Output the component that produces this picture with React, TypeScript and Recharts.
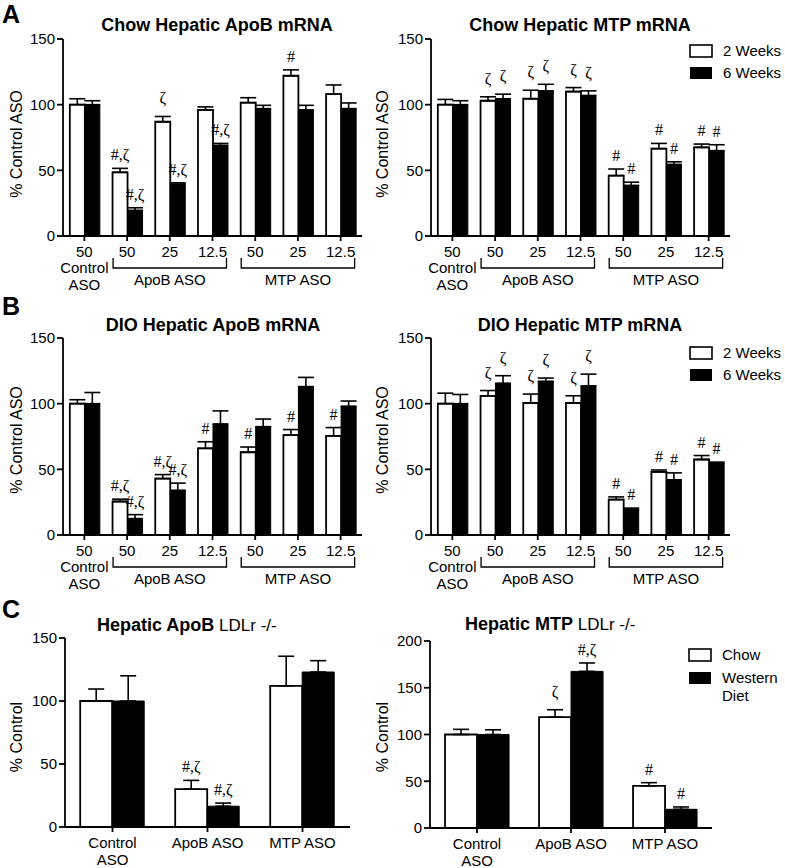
import React from 'react';
import { BarChart, Bar, XAxis, YAxis, ErrorBar, LabelList } from 'recharts';

const SANS = '"Liberation Sans", Arial, Helvetica, sans-serif';
const SERIF = '"Liberation Serif", "Times New Roman", serif';

// panels A and B: 7 dose categories
const doseIds = ['ctl50', 'apob50', 'apob25', 'apob12.5', 'mtp50', 'mtp25', 'mtp12.5'];
const doses = ['50', '50', '25', '12.5', '50', '25', '12.5'];
const doseGroups = [
  { label: 'ApoB ASO', mid: 2 },
  { label: 'MTP ASO', mid: 5 },
];
const weekLegend = ['2 Weeks', '6 Weeks'];

// A - chow, hepatic ApoB mRNA
const chowApoB2w = [100, 48.5, 87, 96, 101.5, 122, 108];
const chowApoB2wErr = [4.5, 3, 4, 2.3, 3.8, 4.5, 7];
const chowApoB6w = [100, 19.5, 39.5, 69, 97, 96, 97];
const chowApoB6wErr = [3, 2, 1, 1.5, 2.5, 3.5, 4.3];
const chowApoB2wNote = ['', '#,ζ', 'ζ', '', '', '#', ''];
const chowApoB6wNote = ['', '#,ζ', '#,ζ', '#,ζ', '', '', ''];

// A - chow, hepatic MTP mRNA
const chowMtp2w = [100, 103, 104.5, 110, 46, 66.5, 67.5];
const chowMtp2wErr = [4, 3, 6.5, 3, 5, 4, 2.5];
const chowMtp6w = [100, 104.5, 110.5, 107, 38.5, 54.5, 65];
const chowMtp6wErr = [3, 3.5, 5, 3.5, 2.5, 2, 4.5];
const chowMtp2wNote = ['', 'ζ', 'ζ', 'ζ', '#', '#', '#'];
const chowMtp6wNote = ['', 'ζ', 'ζ', 'ζ', '#', '#', '#'];

// B - DIO, hepatic ApoB mRNA
const dioApoB2w = [100, 25.5, 43, 66, 63, 76, 75.5];
const dioApoB2wErr = [3, 1.8, 3, 5, 4, 4.3, 6.3];
const dioApoB6w = [100, 12.5, 34, 84.5, 82.5, 113, 98];
const dioApoB6wErr = [8.5, 3, 5.5, 10, 5.8, 7, 4];
const dioApoB2wNote = ['', '#,ζ', '#,ζ', '#', '#', '#', '#'];
const dioApoB6wNote = ['', '#,ζ', '#,ζ', '', '', '', ''];

// B - DIO, hepatic MTP mRNA
const dioMtp2w = [100, 106, 100.5, 100.5, 27, 48, 57.5];
const dioMtp2wErr = [8, 4, 6.8, 5.5, 2, 1.5, 3];
const dioMtp6w = [100, 115.5, 117, 113.5, 19.5, 42, 54.5];
const dioMtp6wErr = [7, 5.8, 2.5, 9, 1, 5.3, 1];
const dioMtp2wNote = ['', 'ζ', 'ζ', 'ζ', '#', '#', '#'];
const dioMtp6wNote = ['', 'ζ', 'ζ', 'ζ', '#', '#', '#'];

// C - LDLr -/-, chow vs western diet
const dietCats = ['Control ASO', 'ApoB ASO', 'MTP ASO'];
const dietTickLines = [['Control', 'ASO'], ['ApoB ASO'], ['MTP ASO']];
const dietLegend = ['Chow', 'Western', 'Diet'];

const ldlrApoBChow = [100, 30, 112];
const ldlrApoBChowErr = [9.5, 7, 23.5];
const ldlrApoBWest = [100, 16.5, 123];
const ldlrApoBWestErr = [20, 2.5, 9];
const ldlrApoBChowNote = ['', '#,ζ', ''];
const ldlrApoBWestNote = ['', '#,ζ', ''];

const ldlrMtpChow = [100, 118.5, 45];
const ldlrMtpChowErr = [5.5, 8, 3.5];
const ldlrMtpWest = [100, 167.5, 20];
const ldlrMtpWestErr = [5, 9, 2.5];
const ldlrMtpChowNote = ['', 'ζ', '#'];
const ldlrMtpWestNote = ['', '#,ζ', '#'];

type Row = { id: string; a: number; aErr: number[]; aNote: string; b: number; bErr: number[]; bNote: string };

function makeRows(ids: string[], a: number[], ae: number[], an: string[], b: number[], be: number[], bn: string[]): Row[] {
  return ids.map((id, i) => ({
    id,
    a: a[i],
    aErr: [0, ae[i]],
    aNote: an[i],
    b: b[i],
    bErr: [0, be[i]],
    bNote: bn[i],
  }));
}

type Box = { left: number; top: number; width: number; height: number };
type Plot = { x0: number; x1: number; y0: number; y1: number };

// significance marks placed above the error bar cap
function noteLabel(rows: Row[], key: 'a' | 'b') {
  return (props: any) => {
    const vb = props.viewBox || props;
    const i = props.index;
    const row = rows[i];
    const note = key === 'a' ? row.aNote : row.bNote;
    if (!note) return null;
    const val = key === 'a' ? row.a : row.b;
    const err = (key === 'a' ? row.aErr : row.bErr)[1];
    const ppu = vb.height / val;
    const top = vb.y - err * ppu;
    const lift = note.includes('#') ? 8 : 13;
    return (
      <text x={vb.x + vb.width / 2} y={top - lift} textAnchor="middle" fontFamily={SERIF} fontSize={16} fill="#000">
        {note}
      </text>
    );
  };
}

function AxisTitle({ cx, cy, text }: { cx: number; cy: number; text: string }) {
  return (
    <text x={cx} y={cy} transform={`rotate(-90, ${cx}, ${cy})`} textAnchor="middle" fontFamily={SANS} fontSize={16} fill="#000">
      {text}
    </text>
  );
}

function doseTick(axisY: number, band: number) {
  return (props: any) => {
    const { x } = props;
    const i = props.index ?? props.payload?.index ?? 0;
    const group = doseGroups.find((g) => g.mid === i);
    const hw = band + 14;
    return (
      <g fontFamily={SANS} fontSize={15} fill="#000">
        <text x={x} y={axisY + 21} textAnchor="middle">{doses[i]}</text>
        {i === 0 && (
          <>
            <text x={x} y={axisY + 37} textAnchor="middle">Control</text>
            <text x={x} y={axisY + 54} textAnchor="middle">ASO</text>
          </>
        )}
        {group && (
          <>
            <path
              d={`M${x - hw},${axisY + 22} V${axisY + 32} H${x + hw} V${axisY + 22}`}
              fill="none"
              stroke="#000"
              strokeWidth={1.3}
            />
            <text x={x} y={axisY + 49} textAnchor="middle">{group.label}</text>
          </>
        )}
      </g>
    );
  };
}

function dietTick(axisY: number) {
  return (props: any) => {
    const { x } = props;
    const i = props.index ?? props.payload?.index ?? 0;
    return (
      <g fontFamily={SANS} fontSize={15} fill="#000">
        {dietTickLines[i].map((t, k) => (
          <text key={k} x={x} y={axisY + 21 + k * 17} textAnchor="middle">{t}</text>
        ))}
      </g>
    );
  };
}

type PanelProps = {
  box: Box;
  plot: Plot;
  rows: Row[];
  yMax: number;
  yTicks: number[];
  yLabel: string;
  yLabelX: number;
  yLabelY: number;
  tick: (p: any) => React.ReactElement;
};

function Panel({ box, plot, rows, yMax, yTicks, yLabel, yLabelX, yLabelY, tick }: PanelProps) {
  const yAxisW = plot.x0 - box.left;
  const xAxisH = box.top + box.height - plot.y1;
  const margin = { top: plot.y0 - box.top, right: box.left + box.width - plot.x1, left: 0, bottom: 0 };
  const line = { stroke: '#000', strokeWidth: 1.8 };
  return (
    <div style={{ position: 'absolute', left: box.left, top: box.top }}>
      <BarChart width={box.width} height={box.height} data={rows} margin={margin} barGap={0} barCategoryGap="16%">
        <XAxis dataKey="id" height={xAxisH} interval={0} tick={tick} tickSize={5} tickLine={line} axisLine={line} />
        <YAxis
          width={yAxisW}
          domain={[0, yMax]}
          ticks={yTicks}
          interval={0}
          tickSize={6}
          tickMargin={2}
          tickLine={line}
          axisLine={line}
          tick={{ fill: '#000', fontSize: 15, fontFamily: SANS }}
          label={<AxisTitle cx={yLabelX - box.left} cy={yLabelY - box.top} text={yLabel} />}
        />
        <Bar dataKey="a" fill="#fff" stroke="#000" strokeWidth={1.8} isAnimationActive={false}>
          <ErrorBar dataKey="aErr" width={8} stroke="#000" strokeWidth={1.6} />
          <LabelList dataKey="aNote" content={noteLabel(rows, 'a')} />
        </Bar>
        <Bar dataKey="b" fill="#000" stroke="#000" strokeWidth={1} isAnimationActive={false}>
          <ErrorBar dataKey="bErr" width={8} stroke="#000" strokeWidth={1.6} />
          <LabelList dataKey="bNote" content={noteLabel(rows, 'b')} />
        </Bar>
      </BarChart>
    </div>
  );
}

function Legend({ x, y, labels, gap }: { x: number; y: number; labels: string[]; gap: number }) {
  return (
    <g fontFamily={SANS} fontSize={15} fill="#000">
      <rect x={x} y={y} width={22} height={12} fill="#fff" stroke="#000" strokeWidth={1.6} />
      <rect x={x} y={y + gap} width={22} height={12} fill="#000" />
      <text x={x + 33} y={y + 11}>{labels[0]}</text>
      <text x={x + 33} y={y + gap + 11}>{labels[1]}</text>
      {labels[2] && <text x={x + 33} y={y + gap + 29}>{labels[2]}</text>}
    </g>
  );
}

export default function App() {
  const aLeft = makeRows(doseIds, chowApoB2w, chowApoB2wErr, chowApoB2wNote, chowApoB6w, chowApoB6wErr, chowApoB6wNote);
  const aRight = makeRows(doseIds, chowMtp2w, chowMtp2wErr, chowMtp2wNote, chowMtp6w, chowMtp6wErr, chowMtp6wNote);
  const bLeft = makeRows(doseIds, dioApoB2w, dioApoB2wErr, dioApoB2wNote, dioApoB6w, dioApoB6wErr, dioApoB6wNote);
  const bRight = makeRows(doseIds, dioMtp2w, dioMtp2wErr, dioMtp2wNote, dioMtp6w, dioMtp6wErr, dioMtp6wNote);
  const cLeft = makeRows(dietCats, ldlrApoBChow, ldlrApoBChowErr, ldlrApoBChowNote, ldlrApoBWest, ldlrApoBWestErr, ldlrApoBWestNote);
  const cRight = makeRows(dietCats, ldlrMtpChow, ldlrMtpChowErr, ldlrMtpChowNote, ldlrMtpWest, ldlrMtpWestErr, ldlrMtpWestNote);

  const ticks150 = [0, 50, 100, 150];
  const ticks200 = [0, 50, 100, 150, 200];

  const plotAL = { x0: 63, x1: 362, y0: 39, y1: 236 };
  const plotAR = { x0: 431, x1: 730, y0: 39, y1: 236 };
  const plotBL = { x0: 63, x1: 362, y0: 338, y1: 535 };
  const plotBR = { x0: 431, x1: 730, y0: 338, y1: 535 };
  const plotCL = { x0: 65, x1: 350, y0: 638, y1: 827 };
  const plotCR = { x0: 430, x1: 712, y0: 641, y1: 828 };

  const boxAL = { left: 0, top: 0, width: 370, height: 300 };
  const boxAR = { left: 370, top: 0, width: 415, height: 300 };
  const boxBL = { left: 0, top: 300, width: 370, height: 300 };
  const boxBR = { left: 370, top: 300, width: 415, height: 300 };
  const boxCL = { left: 0, top: 600, width: 370, height: 268 };
  const boxCR = { left: 370, top: 600, width: 415, height: 268 };

  return (
    <div style={{ position: 'absolute', left: 0, top: 0, width: 785, height: 868, background: '#fff' }}>
      <Panel box={boxAL} plot={plotAL} rows={aLeft} yMax={150} yTicks={ticks150} yLabel="% Control ASO" yLabelX={22} yLabelY={144}
        tick={doseTick(plotAL.y1 - boxAL.top, (plotAL.x1 - plotAL.x0) / 7)} />
      <Panel box={boxAR} plot={plotAR} rows={aRight} yMax={150} yTicks={ticks150} yLabel="% Control ASO" yLabelX={388} yLabelY={144}
        tick={doseTick(plotAR.y1 - boxAR.top, (plotAR.x1 - plotAR.x0) / 7)} />
      <Panel box={boxBL} plot={plotBL} rows={bLeft} yMax={150} yTicks={ticks150} yLabel="% Control ASO" yLabelX={22} yLabelY={440}
        tick={doseTick(plotBL.y1 - boxBL.top, (plotBL.x1 - plotBL.x0) / 7)} />
      <Panel box={boxBR} plot={plotBR} rows={bRight} yMax={150} yTicks={ticks150} yLabel="% Control ASO" yLabelX={388} yLabelY={440}
        tick={doseTick(plotBR.y1 - boxBR.top, (plotBR.x1 - plotBR.x0) / 7)} />
      <Panel box={boxCL} plot={plotCL} rows={cLeft} yMax={150} yTicks={ticks150} yLabel="% Control" yLabelX={22} yLabelY={737}
        tick={dietTick(plotCL.y1 - boxCL.top)} />
      <Panel box={boxCR} plot={plotCR} rows={cRight} yMax={200} yTicks={ticks200} yLabel="% Control" yLabelX={388} yLabelY={737}
        tick={dietTick(plotCR.y1 - boxCR.top)} />

      <svg width={785} height={868} style={{ position: 'absolute', left: 0, top: 0, pointerEvents: 'none' }}>
        <g fontFamily={SANS} fontWeight="bold" fontSize={25} fill="#000">
          <text x={2} y={23}>A</text>
          <text x={2} y={315}>B</text>
          <text x={2} y={618}>C</text>
        </g>
        <g fontFamily={SANS} fontWeight="bold" fontSize={18} fill="#000" textAnchor="middle">
          <text x={217} y={31}>Chow Hepatic ApoB mRNA</text>
          <text x={580} y={31}>Chow Hepatic MTP mRNA</text>
          <text x={213} y={331}>DIO Hepatic ApoB mRNA</text>
          <text x={580} y={331}>DIO Hepatic MTP mRNA</text>
        </g>
        <g fontFamily={SANS} fontSize={18} fill="#000">
          <text x={97} y={631}>
            <tspan fontWeight="bold">Hepatic ApoB</tspan>
            <tspan fontSize={17}> LDLr -/-</tspan>
          </text>
          <text x={465} y={630}>
            <tspan fontWeight="bold">Hepatic MTP</tspan>
            <tspan fontSize={17}> LDLr -/-</tspan>
          </text>
        </g>
        <Legend x={690} y={45} labels={weekLegend} gap={22} />
        <Legend x={690} y={347} labels={weekLegend} gap={22} />
        <Legend x={689} y={649} labels={dietLegend} gap={23} />
      </svg>
    </div>
  );
}
